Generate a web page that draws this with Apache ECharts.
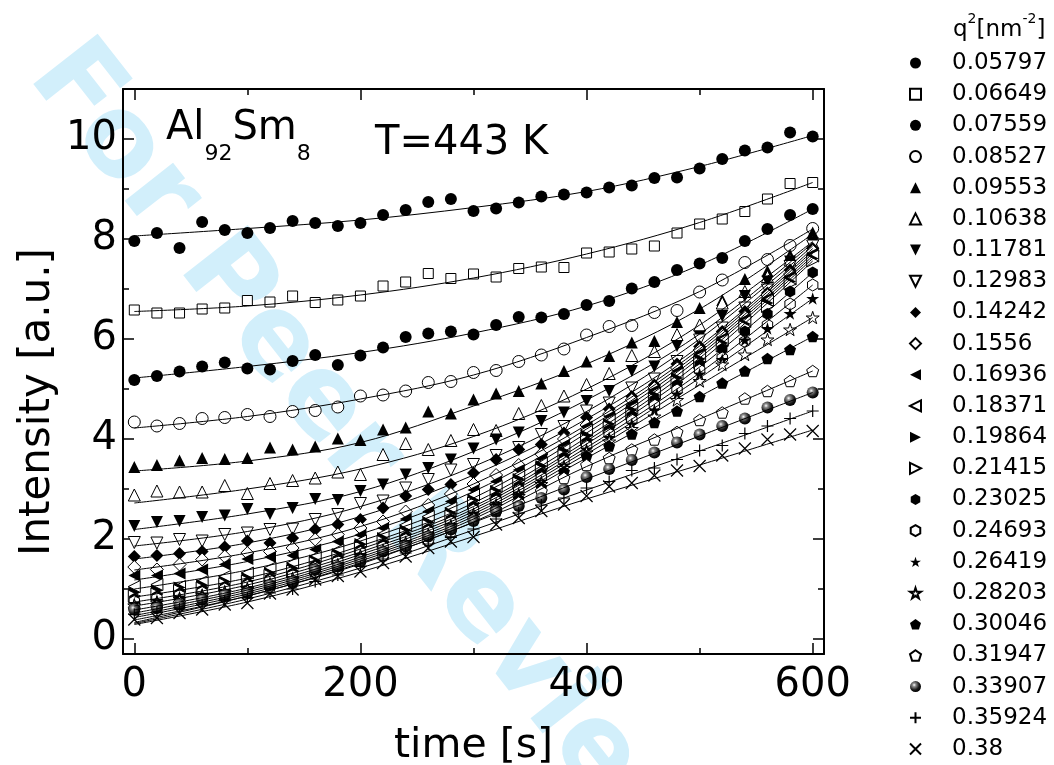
<!DOCTYPE html>
<html><head><meta charset="utf-8">
<script src="https://cdn.jsdelivr.net/npm/echarts@6/dist/echarts.min.js"></script>
<style>html,body{margin:0;padding:0;background:#fff}#c{width:1054px;height:765px}</style>
</head><body><div id="c"></div>
<script>
// ---------------- data ----------------
const times = [0,20,40,60,80,100,120,140,160,180,200,220,240,260,280,300,320,340,360,380,400,420,440,460,480,500,520,540,560,580,600];
const fitTimes = [0,100,200,300,400,500,600];
const qLabels = ['0.05797','0.06649','0.07559','0.08527','0.09553','0.10638','0.11781','0.12983','0.14242','0.1556','0.16936','0.18371','0.19864','0.21415','0.23025','0.24693','0.26419','0.28203','0.30046','0.31947','0.33907','0.35924','0.38'];
const xTicks = [0,200,400,600];
const xMinorTicks = [100,300,500];
const yTicks = [0,2,4,6,8,10];
const yMinorTicks = [1,3,5,7,9];

const s01 = [7.96,8.12,7.82,8.34,8.18,8.12,8.22,8.36,8.32,8.26,8.32,8.48,8.58,8.74,8.80,8.56,8.61,8.73,8.85,8.89,8.93,9.03,9.07,9.22,9.23,9.41,9.60,9.77,9.83,10.13,10.05];
const s02 = [6.58,6.52,6.52,6.60,6.62,6.77,6.74,6.86,6.73,6.78,6.86,7.06,7.14,7.31,7.21,7.30,7.24,7.41,7.44,7.43,7.72,7.74,7.80,7.86,8.12,8.30,8.40,8.55,8.80,9.11,9.13];
const s03 = [5.18,5.26,5.35,5.45,5.53,5.41,5.39,5.56,5.68,5.48,5.67,5.83,6.04,6.11,6.15,6.09,6.28,6.44,6.43,6.50,6.68,6.76,7.01,7.14,7.38,7.51,7.62,7.96,8.20,8.48,8.60];
const s04 = [4.34,4.26,4.31,4.41,4.43,4.49,4.45,4.55,4.57,4.64,4.86,4.88,4.96,5.13,5.15,5.33,5.37,5.55,5.68,5.80,6.08,6.25,6.27,6.53,6.57,6.94,7.18,7.53,7.59,7.87,8.21];
const s05 = [3.44,3.48,3.57,3.62,3.60,3.62,3.83,3.79,3.85,4.01,3.98,4.19,4.23,4.55,4.51,4.79,4.91,4.96,5.11,5.36,5.55,5.66,5.93,5.96,6.34,6.62,6.78,7.20,7.36,7.68,8.13];
const s06 = [2.88,2.96,2.94,2.94,3.07,2.91,3.11,3.17,3.22,3.34,3.29,3.69,3.91,3.79,3.97,4.19,4.17,4.51,4.67,4.86,5.09,5.31,5.67,5.75,6.09,6.28,6.72,6.95,7.25,7.58,7.93];
const s07 = [2.26,2.34,2.36,2.44,2.47,2.60,2.50,2.62,2.80,2.78,2.96,3.09,3.29,3.42,3.59,3.81,3.99,4.13,4.36,4.53,4.76,4.96,5.36,5.45,5.86,6.05,6.46,6.86,7.15,7.55,7.92];
const s08 = [1.93,1.92,1.99,1.96,2.09,2.12,2.19,2.20,2.39,2.49,2.71,2.76,3.02,3.19,3.38,3.49,3.67,3.83,4.09,4.25,4.56,4.72,5.02,5.20,5.55,5.98,6.22,6.62,6.98,7.45,7.86];
const s09 = [1.65,1.67,1.71,1.75,1.84,1.96,1.92,2.02,2.19,2.29,2.39,2.62,2.86,2.99,3.09,3.32,3.59,3.79,3.89,4.12,4.43,4.60,4.85,5.08,5.50,5.85,6.15,6.55,6.92,7.38,7.81];
const s10 = [1.44,1.39,1.49,1.59,1.65,1.72,1.75,1.82,1.99,2.09,2.22,2.35,2.55,2.68,2.90,3.10,3.28,3.48,3.70,4.00,4.28,4.50,4.78,5.02,5.42,5.78,6.08,6.45,6.88,7.30,7.76];
const s11 = [1.27,1.27,1.31,1.39,1.49,1.60,1.64,1.67,1.79,1.95,2.08,2.22,2.40,2.55,2.75,2.98,3.15,3.38,3.60,3.88,4.25,4.45,4.70,4.98,5.36,5.72,6.02,6.40,6.82,7.25,7.71];
const s12 = [1.05,1.09,1.05,1.15,1.25,1.32,1.42,1.52,1.65,1.78,1.96,2.10,2.28,2.45,2.62,2.88,3.05,3.28,3.52,3.80,4.18,4.38,4.62,4.92,5.30,5.66,5.98,6.35,6.78,7.20,7.66];
const s13 = [0.93,0.97,1.03,1.08,1.15,1.22,1.32,1.42,1.57,1.70,1.90,2.02,2.17,2.33,2.52,2.78,2.96,3.20,3.46,3.76,4.06,4.30,4.58,4.88,5.22,5.60,5.92,6.30,6.72,7.15,7.61];
const s14 = [0.86,0.90,0.97,1.02,1.10,1.16,1.27,1.36,1.52,1.64,1.84,1.95,2.10,2.27,2.46,2.72,2.89,3.12,3.38,3.68,3.99,4.24,4.50,4.80,5.14,5.53,5.86,6.25,6.65,7.10,7.56];
const s15 = [0.80,0.85,0.91,0.97,1.04,1.11,1.21,1.31,1.47,1.59,1.78,1.89,2.04,2.20,2.39,2.65,2.83,3.05,3.31,3.62,3.93,4.18,4.46,4.78,5.08,5.48,5.80,6.15,6.50,6.95,7.33];
const s16 = [0.75,0.81,0.87,0.93,1.00,1.07,1.17,1.27,1.43,1.55,1.73,1.84,1.99,2.15,2.34,2.58,2.76,2.98,3.23,3.55,3.86,4.10,4.38,4.68,4.98,5.38,5.62,5.95,6.28,6.70,7.08];
const s17 = [0.71,0.77,0.84,0.90,0.97,1.03,1.13,1.23,1.40,1.51,1.69,1.80,1.95,2.11,2.29,2.52,2.71,2.92,3.16,3.48,3.80,4.03,4.30,4.58,4.90,5.30,5.59,5.98,6.21,6.51,6.81];
const s18 = [0.67,0.73,0.80,0.87,0.94,1.00,1.10,1.20,1.37,1.48,1.66,1.76,1.91,2.07,2.25,2.47,2.66,2.86,3.10,3.42,3.73,3.95,4.20,4.45,4.78,5.16,5.49,5.69,5.99,6.19,6.43];
const s19 = [0.63,0.69,0.77,0.84,0.91,0.97,1.07,1.17,1.34,1.45,1.62,1.72,1.87,2.03,2.21,2.43,2.61,2.81,3.04,3.35,3.66,3.86,4.10,4.33,4.56,4.85,5.12,5.36,5.61,5.79,6.05];
const s20 = [0.60,0.65,0.73,0.81,0.89,0.95,1.04,1.14,1.31,1.42,1.59,1.68,1.83,1.98,2.16,2.40,2.56,2.73,2.96,3.22,3.48,3.62,3.79,3.99,4.14,4.38,4.53,4.81,4.96,5.16,5.36];
const s21 = [0.59,0.62,0.69,0.79,0.88,0.92,1.08,1.15,1.39,1.45,1.55,1.75,1.85,2.05,2.19,2.36,2.56,2.66,2.82,2.99,3.24,3.40,3.58,3.73,3.93,4.09,4.26,4.41,4.63,4.78,4.93];
const s22 = [0.49,0.54,0.60,0.68,0.76,0.82,0.92,1.00,1.15,1.28,1.45,1.60,1.72,1.90,2.03,2.20,2.40,2.52,2.68,2.82,3.02,3.15,3.37,3.42,3.59,3.77,3.87,4.11,4.26,4.41,4.56];
const s23 = [0.39,0.42,0.52,0.59,0.69,0.72,0.91,0.99,1.19,1.26,1.35,1.52,1.65,1.82,1.95,2.04,2.29,2.42,2.56,2.69,2.86,3.05,3.12,3.27,3.37,3.46,3.67,3.81,3.99,4.09,4.16];

const f01 = [8.06,8.21,8.38,8.63,8.95,9.45,10.07];
const f02 = [6.55,6.66,6.88,7.22,7.70,8.33,9.13];
const f03 = [5.22,5.45,5.73,6.12,6.66,7.48,8.60];
const f04 = [4.22,4.45,4.80,5.28,6.03,6.95,8.20];
const f05 = [3.36,3.56,3.93,4.66,5.50,6.60,8.10];
const f06 = [2.72,3.00,3.40,4.05,5.00,6.28,7.95];
const f07 = [2.19,2.50,2.95,3.75,4.78,6.10,7.92];
const f08 = [1.86,2.15,2.65,3.45,4.55,6.00,7.86];
const f09 = [1.60,1.92,2.45,3.28,4.40,5.86,7.81];
const f10 = [1.38,1.72,2.25,3.10,4.28,5.80,7.76];
const f11 = [1.18,1.55,2.10,2.95,4.20,5.74,7.71];
const f12 = [1.00,1.38,1.96,2.82,4.12,5.68,7.66];
const f13 = [0.84,1.22,1.86,2.72,4.03,5.62,7.61];
const f14 = [0.74,1.14,1.80,2.65,3.96,5.54,7.56];
const f15 = [0.66,1.08,1.74,2.60,3.90,5.44,7.33];
const f16 = [0.58,1.02,1.69,2.55,3.83,5.32,7.08];
const f17 = [0.52,0.98,1.64,2.50,3.77,5.22,6.81];
const f18 = [0.47,0.94,1.60,2.45,3.70,5.08,6.43];
const f19 = [0.43,0.90,1.56,2.40,3.62,4.85,6.05];
const f20 = [0.38,0.86,1.52,2.34,3.45,4.40,5.36];
const f21 = [0.33,0.86,1.50,2.33,3.20,4.06,4.93];
const f22 = [0.31,0.80,1.42,2.18,2.98,3.76,4.56];
const f23 = [0.29,0.74,1.34,2.05,2.80,3.48,4.18];

// ---------------- styling ----------------
const FONT = 'DejaVu Sans';
const seriesValues = [s01,s02,s03,s04,s05,s06,s07,s08,s09,s10,s11,s12,s13,s14,s15,s16,s17,s18,s19,s20,s21,s22,s23];
const fitValues = [f01,f02,f03,f04,f05,f06,f07,f08,f09,f10,f11,f12,f13,f14,f15,f16,f17,f18,f19,f20,f21,f22,f23];

const SYM = {
  down: 'path://M0,0L2,0L1,2Z',
  left: 'path://M0,1L2,0L2,2Z',
  right: 'path://M0,0L2,1L0,2Z',
  hex: 'path://M1,0L1.866,0.5L1.866,1.5L1,2L0.134,1.5L0.134,0.5Z',
  pent: 'path://M0.951,0L1.902,0.691L1.539,1.809L0.363,1.809L0,0.691Z',
  star: 'path://M1,0L1.2245,0.691L1.951,0.691L1.3633,1.118L1.588,1.809L1,1.382L0.412,1.809L0.6367,1.118L0.049,0.691L0.7755,0.691Z',
  plus: 'path://M1,0L1,2M0,1L2,1',
  cross: 'path://M0,0L2,2M2,0L0,2'
};
const BLACK = '#000', WHITE = '#fff', NONE = 'rgba(0,0,0,0)';
const sphere = {type:'radial', x:0.38, y:0.35, r:0.65, colorStops:[{offset:0,color:'#ffffff'},{offset:0.25,color:'#8a8a8a'},{offset:0.7,color:'#1a1a1a'},{offset:1,color:'#000'}]};
const styles = [
  {symbol:'circle', size:12, fill:BLACK, bw:0},
  {symbol:'rect', size:10, fill:WHITE, bw:1},
  {symbol:'circle', size:12, fill:BLACK, bw:0},
  {symbol:'circle', size:12, fill:WHITE, bw:1},
  {symbol:'triangle', size:12, fill:BLACK, bw:0},
  {symbol:'triangle', size:12, fill:WHITE, bw:1},
  {symbol:SYM.down, size:12, fill:BLACK, bw:0},
  {symbol:SYM.down, size:12, fill:WHITE, bw:1},
  {symbol:'diamond', size:13, fill:BLACK, bw:0},
  {symbol:'diamond', size:13, fill:WHITE, bw:1},
  {symbol:SYM.left, size:12, fill:BLACK, bw:0},
  {symbol:SYM.left, size:12, fill:WHITE, bw:1},
  {symbol:SYM.right, size:12, fill:BLACK, bw:0},
  {symbol:SYM.right, size:12, fill:WHITE, bw:1},
  {symbol:SYM.hex, size:12, fill:BLACK, bw:0},
  {symbol:SYM.hex, size:12, fill:WHITE, bw:1},
  {symbol:SYM.star, size:13, fill:BLACK, bw:0},
  {symbol:SYM.star, size:13, fill:WHITE, bw:1},
  {symbol:SYM.pent, size:12, fill:BLACK, bw:0},
  {symbol:SYM.pent, size:12, fill:WHITE, bw:1},
  {symbol:'circle', size:12, fill:sphere, bw:0},
  {symbol:SYM.plus, size:12, fill:NONE, bw:1.2},
  {symbol:SYM.cross, size:12, fill:NONE, bw:1.2}
];

const series = [];
seriesValues.forEach((vals, i) => {
  const st = styles[i];
  series.push({
    type: 'scatter', name: qLabels[i], xAxisIndex: 0, yAxisIndex: 0,
    data: times.map((t, k) => [t, vals[k]]),
    symbol: st.symbol, symbolSize: st.size, symbolKeepAspect: true,
    itemStyle: {color: st.fill, borderColor: BLACK, borderWidth: st.bw, opacity: 1},
    emphasis: {disabled: true}, silent: true, z: 3
  });
});
fitValues.forEach((vals, i) => {
  series.push({
    type: 'line', name: 'fit ' + qLabels[i], xAxisIndex: 0, yAxisIndex: 0,
    data: fitTimes.map((t, k) => [t, vals[k]]),
    smooth: 0.35, symbol: 'none', showSymbol: false,
    lineStyle: {color: BLACK, width: 1},
    emphasis: {disabled: true}, silent: true, z: 4
  });
});

const gridRect = {left: 123, right: 230, top: 89, bottom: 111, containLabel: false, outerBoundsMode: 'none'};
const tickLine = {color: BLACK, width: 1.5};
const frameLine = {show: true, onZero: false, lineStyle: {color: BLACK, width: 2}};
const noLine = {show: false, onZero: false};

function xAx(grid, pos, ticks, len, labels, frame) {
  const a = {
    gridIndex: grid, type: 'value', min: -10, max: 610, position: pos,
    axisLine: frame ? frameLine : noLine,
    axisTick: {show: true, inside: true, length: len, customValues: ticks, lineStyle: tickLine},
    axisLabel: labels ? {customValues: ticks, fontSize: 40, fontFamily: FONT, color: BLACK, margin: 12} : {show: false},
    splitLine: {show: false}
  };
  if (labels) {
    a.name = 'time [s]'; a.nameLocation = 'middle'; a.nameGap = 72;
    a.nameTextStyle = {fontSize: 41, fontFamily: FONT, color: BLACK};
  }
  return a;
}
function yAx(grid, pos, ticks, len, labels, frame) {
  return {
    gridIndex: grid, type: 'value', min: -0.3, max: 11, position: pos,
    axisLine: frame ? frameLine : noLine,
    axisTick: {show: true, inside: true, length: len, customValues: ticks, lineStyle: tickLine},
    axisLabel: labels ? {customValues: ticks, fontSize: 40, fontFamily: FONT, color: BLACK, margin: 6} : {show: false},
    splitLine: {show: false}
  };
}

const option = {
  animation: false,
  backgroundColor: '#fff',
  grid: [Object.assign({}, gridRect), Object.assign({}, gridRect)],
  xAxis: [
    xAx(0, 'bottom', xTicks, 11, true, true),
    xAx(0, 'top', xTicks, 11, false, true),
    xAx(1, 'bottom', xMinorTicks, 6, false, false),
    xAx(1, 'top', xMinorTicks, 6, false, false)
  ],
  yAxis: [
    yAx(0, 'left', yTicks, 11, true, true),
    yAx(0, 'right', yTicks, 11, false, true),
    yAx(1, 'left', yMinorTicks, 6, false, false),
    yAx(1, 'right', yMinorTicks, 6, false, false)
  ],
  title: {
    text: '{a|q}{s|2}{a|[nm}{s|-2}{a|]}', left: 953, top: 12, padding: 0,
    textStyle: {fontWeight: 'normal', rich: {
      a: {fontSize: 23, lineHeight: 36, fontFamily: FONT, fontWeight: 'normal', color: BLACK},
      s: {fontSize: 14, lineHeight: 14, verticalAlign: 'top', fontFamily: FONT, fontWeight: 'normal', color: BLACK}
    }}
  },
  legend: {
    data: qLabels, orient: 'vertical', left: 909, top: 51, padding: 0,
    itemWidth: 11, itemHeight: 11, itemGap: 7.18, selectedMode: false,
    textStyle: {fontSize: 23, fontFamily: FONT, color: BLACK, lineHeight: 24, padding: [0, 0, 0, 26]}
  },
  graphic: [
    {type: 'text', x: 50, y: 58, rotation: -0.906, z: -10, silent: true,
     style: {text: 'For Peer Review', fontSize: 112, fontWeight: 'bold', fontFamily: FONT, fill: '#d2effb', textAlign: 'left', textVerticalAlign: 'middle'}},
    {type: 'text', x: 38, y: 402, rotation: Math.PI / 2, silent: true,
     style: {text: 'Intensity [a.u.]', fontSize: 42, fontFamily: FONT, fill: BLACK, textAlign: 'center', textVerticalAlign: 'middle'}},
    {type: 'text', left: 166, top: 109, silent: true, z: 10,
     style: {text: '{a|Al}{s|92}{a|Sm}{s|8}', rich: {
       a: {fontSize: 40, lineHeight: 72, fontFamily: FONT, fill: BLACK},
       s: {fontSize: 22, lineHeight: 22, verticalAlign: 'bottom', fontFamily: FONT, fill: BLACK}
     }}},
    {type: 'text', left: 375, top: 124, silent: true, z: 10,
     style: {text: 'T=443 K', fontSize: 40, fontFamily: FONT, fill: BLACK}}
  ],
  series: series
};

const chart = echarts.init(document.getElementById('c'), null, {renderer: 'canvas'});
chart.setOption(option);
</script>
</body></html>
